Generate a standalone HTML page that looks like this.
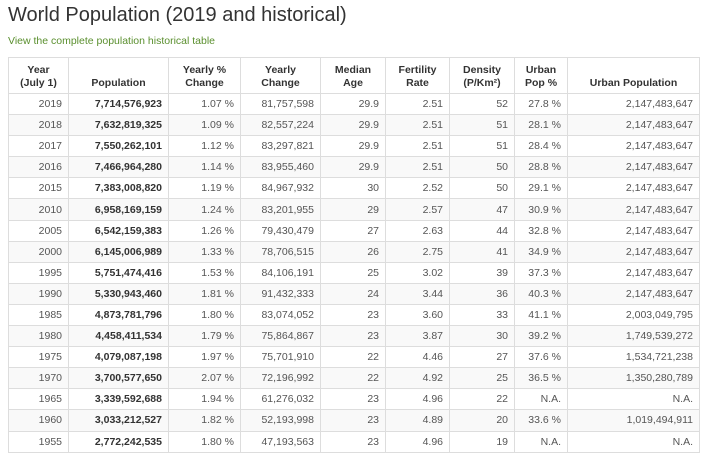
<!DOCTYPE html>
<html><head><meta charset="utf-8"><style>
body{margin:0;width:704px;height:460px;background:#fff;font-family:"Liberation Sans",sans-serif;color:#333;overflow:hidden}
h1{position:absolute;left:8px;top:4px;margin:0;font-size:20px;font-weight:normal;color:#333}
.lnk{position:absolute;left:8px;top:35px;font-size:10.5px;color:#5a8f2e}
table{position:absolute;left:8px;top:57px;border-collapse:collapse;font-size:10.5px;table-layout:fixed}
th,td{border:1px solid #ddd;padding:0 6px;white-space:nowrap}
th{font-weight:bold;height:32px;text-align:center;vertical-align:bottom;padding-bottom:3px;line-height:13px;font-size:10.5px}
td{height:20.1px;text-align:right;color:#555}
td.b{font-weight:bold;color:#333}
tr:nth-child(even) td{background:#f9f9f9}
</style></head><body>
<h1>World Population (2019 and historical)</h1>
<div class="lnk">View the complete population historical table</div>
<table>
<colgroup><col style="width:60px"><col style="width:100px"><col style="width:72px"><col style="width:80px"><col style="width:65px"><col style="width:64px"><col style="width:65px"><col style="width:53px"><col style="width:132px"></colgroup>
<thead><tr><th>Year<br>(July 1)</th><th>Population</th><th>Yearly %<br>Change</th><th>Yearly<br>Change</th><th>Median<br>Age</th><th>Fertility<br>Rate</th><th>Density<br>(P/Km²)</th><th>Urban<br>Pop %</th><th>Urban Population</th></tr></thead>
<tbody>
<tr><td>2019</td><td class="b">7,714,576,923</td><td>1.07 %</td><td>81,757,598</td><td>29.9</td><td>2.51</td><td>52</td><td>27.8 %</td><td>2,147,483,647</td></tr>
<tr><td>2018</td><td class="b">7,632,819,325</td><td>1.09 %</td><td>82,557,224</td><td>29.9</td><td>2.51</td><td>51</td><td>28.1 %</td><td>2,147,483,647</td></tr>
<tr><td>2017</td><td class="b">7,550,262,101</td><td>1.12 %</td><td>83,297,821</td><td>29.9</td><td>2.51</td><td>51</td><td>28.4 %</td><td>2,147,483,647</td></tr>
<tr><td>2016</td><td class="b">7,466,964,280</td><td>1.14 %</td><td>83,955,460</td><td>29.9</td><td>2.51</td><td>50</td><td>28.8 %</td><td>2,147,483,647</td></tr>
<tr><td>2015</td><td class="b">7,383,008,820</td><td>1.19 %</td><td>84,967,932</td><td>30</td><td>2.52</td><td>50</td><td>29.1 %</td><td>2,147,483,647</td></tr>
<tr><td>2010</td><td class="b">6,958,169,159</td><td>1.24 %</td><td>83,201,955</td><td>29</td><td>2.57</td><td>47</td><td>30.9 %</td><td>2,147,483,647</td></tr>
<tr><td>2005</td><td class="b">6,542,159,383</td><td>1.26 %</td><td>79,430,479</td><td>27</td><td>2.63</td><td>44</td><td>32.8 %</td><td>2,147,483,647</td></tr>
<tr><td>2000</td><td class="b">6,145,006,989</td><td>1.33 %</td><td>78,706,515</td><td>26</td><td>2.75</td><td>41</td><td>34.9 %</td><td>2,147,483,647</td></tr>
<tr><td>1995</td><td class="b">5,751,474,416</td><td>1.53 %</td><td>84,106,191</td><td>25</td><td>3.02</td><td>39</td><td>37.3 %</td><td>2,147,483,647</td></tr>
<tr><td>1990</td><td class="b">5,330,943,460</td><td>1.81 %</td><td>91,432,333</td><td>24</td><td>3.44</td><td>36</td><td>40.3 %</td><td>2,147,483,647</td></tr>
<tr><td>1985</td><td class="b">4,873,781,796</td><td>1.80 %</td><td>83,074,052</td><td>23</td><td>3.60</td><td>33</td><td>41.1 %</td><td>2,003,049,795</td></tr>
<tr><td>1980</td><td class="b">4,458,411,534</td><td>1.79 %</td><td>75,864,867</td><td>23</td><td>3.87</td><td>30</td><td>39.2 %</td><td>1,749,539,272</td></tr>
<tr><td>1975</td><td class="b">4,079,087,198</td><td>1.97 %</td><td>75,701,910</td><td>22</td><td>4.46</td><td>27</td><td>37.6 %</td><td>1,534,721,238</td></tr>
<tr><td>1970</td><td class="b">3,700,577,650</td><td>2.07 %</td><td>72,196,992</td><td>22</td><td>4.92</td><td>25</td><td>36.5 %</td><td>1,350,280,789</td></tr>
<tr><td>1965</td><td class="b">3,339,592,688</td><td>1.94 %</td><td>61,276,032</td><td>23</td><td>4.96</td><td>22</td><td>N.A.</td><td>N.A.</td></tr>
<tr><td>1960</td><td class="b">3,033,212,527</td><td>1.82 %</td><td>52,193,998</td><td>23</td><td>4.89</td><td>20</td><td>33.6 %</td><td>1,019,494,911</td></tr>
<tr><td>1955</td><td class="b">2,772,242,535</td><td>1.80 %</td><td>47,193,563</td><td>23</td><td>4.96</td><td>19</td><td>N.A.</td><td>N.A.</td></tr>
</tbody></table>
</body></html>
